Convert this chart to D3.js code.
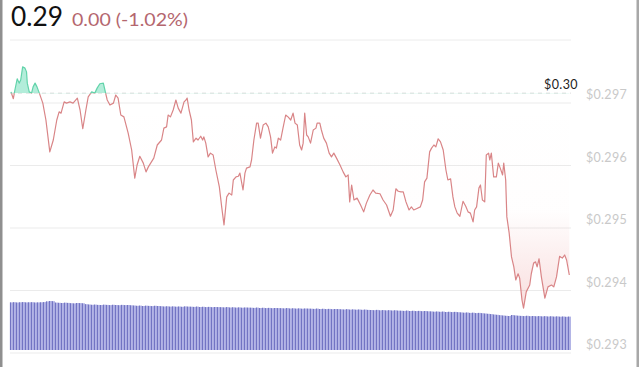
<!DOCTYPE html>
<html>
<head>
<meta charset="utf-8">
<script src="https://cdn.jsdelivr.net/npm/d3@7/dist/d3.min.js"></script>
<style>
  html, body { margin: 0; padding: 0; background: #fff; }
  svg { display: block; }
</style>
</head>
<body>
<div id="chart"></div>
<script>
// ---------- DATA ----------
const headerPrice = "0.29";
const headerChange = "0.00 (-1.02%)";
const baselinePrice = 0.29715;          // previous close (dashed line)
const baselineLabel = "$0.30";
const priceTicks = [0.297, 0.296, 0.295, 0.294, 0.293];
const tickLabels = ["$0.297", "$0.296", "$0.295", "$0.294", "$0.293"];

// minutes since start of the 24h window
const times = [0,6,10,16,21,25,30,36,40,42,47,53,57,62,67,73,82,90,100,109,118,124,129,137,143,152,160,171,178,185,193,199,208,216,222,229,238,242,248,255,264,270,276,283,291,302,311,319,325,332,341,348,354,360,368,377,388,394,401,405,411,418,425,431,438,446,451,454,459,465,470,477,482,489,494,497,502,508,514,521,528,537,543,549,556,562,569,573,580,586,590,598,603,607,616,620,626,633,637,643,650,657,663,669,674,680,684,689,695,701,708,714,721,727,732,738,744,749,753,757,762,766,772,779,786,789,796,800,806,813,820,826,832,839,848,856,863,869,873,878,884,892,901,909,916,925,933,940,951,959,968,978,985,992,998,1005,1011,1018,1026,1032,1038,1045,1055,1061,1066,1072,1079,1084,1090,1095,1101,1107,1114,1121,1126,1133,1139,1144,1150,1157,1165,1172,1178,1184,1191,1195,1200,1206,1210,1215,1221,1225,1231,1234,1238,1244,1251,1256,1261,1267,1270,1275,1278,1284,1290,1296,1301,1307,1311,1317,1321,1328,1337,1341,1347,1352,1356,1361,1367,1376,1384,1393,1399,1406,1414,1421,1427,1432,1439];

const prices = [0.29717,0.29706,0.29720,0.29738,0.29731,0.29736,0.29757,0.29755,0.29749,0.29731,0.29717,0.29715,0.29725,0.29731,0.29725,0.29715,0.29699,0.29672,0.29621,0.29640,0.29672,0.29685,0.29683,0.29701,0.29699,0.29701,0.29699,0.29707,0.29688,0.29658,0.29688,0.29709,0.29717,0.29715,0.29723,0.29730,0.29731,0.29720,0.29704,0.29696,0.29699,0.29712,0.29707,0.29680,0.29677,0.29651,0.29624,0.29579,0.29600,0.29614,0.29603,0.29589,0.29597,0.29603,0.29611,0.29632,0.29640,0.29659,0.29661,0.29680,0.29677,0.29688,0.29704,0.29691,0.29683,0.29701,0.29704,0.29707,0.29688,0.29672,0.29637,0.29643,0.29640,0.29646,0.29640,0.29645,0.29635,0.29613,0.29619,0.29616,0.29592,0.29565,0.29533,0.29504,0.29549,0.29555,0.29552,0.29576,0.29581,0.29582,0.29587,0.29560,0.29587,0.29595,0.29597,0.29608,0.29640,0.29667,0.29667,0.29643,0.29664,0.29667,0.29661,0.29645,0.29619,0.29629,0.29627,0.29643,0.29640,0.29659,0.29680,0.29677,0.29672,0.29683,0.29667,0.29664,0.29632,0.29624,0.29635,0.29683,0.29648,0.29645,0.29635,0.29656,0.29659,0.29667,0.29667,0.29656,0.29643,0.29635,0.29619,0.29613,0.29619,0.29611,0.29600,0.29589,0.29581,0.29584,0.29541,0.29568,0.29544,0.29547,0.29536,0.29525,0.29539,0.29552,0.29560,0.29555,0.29554,0.29544,0.29536,0.29518,0.29528,0.29562,0.29558,0.29557,0.29557,0.29541,0.29528,0.29533,0.29528,0.29530,0.29533,0.29544,0.29573,0.29579,0.29621,0.29627,0.29632,0.29629,0.29642,0.29637,0.29624,0.29592,0.29576,0.29578,0.29549,0.29533,0.29523,0.29518,0.29542,0.29534,0.29525,0.29523,0.29509,0.29528,0.29533,0.29563,0.29568,0.29544,0.29541,0.29616,0.29619,0.29608,0.29619,0.29581,0.29581,0.29603,0.29595,0.29584,0.29603,0.29576,0.29517,0.29491,0.29453,0.29437,0.29416,0.29426,0.29419,0.29384,0.29371,0.29397,0.29408,0.29426,0.29443,0.29445,0.29437,0.29450,0.29421,0.29387,0.29405,0.29408,0.29405,0.29421,0.29454,0.29451,0.29456,0.29448,0.29424];

const volumes = [
  47.6,47.8,47.5,47.7,47.9,47.6,47.7,47.8,47.5,47.6,
  47.7,47.9,48.6,49.0,48.8,47.4,47.2,47.0,47.3,47.1,
  46.8,46.6,47.0,46.9,46.7,45.8,45.5,45.2,45.4,45.1,
  45.0,45.3,45.1,44.9,45.2,45.0,44.8,45.1,44.9,45.0,
  44.7,44.5,44.2,44.4,44.0,44.3,44.1,43.9,44.2,44.0,
  43.8,43.5,43.7,43.4,43.6,43.3,43.5,43.2,43.6,43.4,
  43.3,43.1,43.4,43.0,43.2,42.9,43.1,42.8,43.0,42.9,
  42.8,42.6,42.9,42.5,42.7,42.4,42.6,42.3,42.5,42.4,
  42.3,42.1,42.4,42.0,42.2,41.9,42.1,41.8,42.0,41.9,
  41.8,41.6,41.9,41.5,41.7,41.4,41.6,41.3,41.5,41.4,
  41.3,41.1,41.4,41.0,41.2,40.9,41.1,40.8,41.0,40.9,
  40.7,40.5,40.8,40.4,40.6,40.3,40.5,40.2,40.4,40.1,
  40.0,39.8,40.1,39.7,39.9,39.6,39.8,39.5,39.7,39.4,
  39.3,39.1,39.4,39.0,39.2,38.9,39.1,38.8,39.0,38.7,
  38.6,38.3,38.5,38.2,38.4,38.0,38.2,37.9,38.1,37.8,
  37.6,37.3,37.5,37.1,37.3,36.9,37.1,36.8,36.5,36.2,
  35.9,35.5,35.2,34.8,34.5,34.2,34.0,35.0,34.6,34.3,
  34.1,33.9,34.2,33.8,34.0,33.7,33.9,33.6,33.8,33.5,
  33.7,33.4,33.6,33.3,33.5,33.2,33.4
];

// ---------- CHART ----------
const W = 640, H = 367;
const svg = d3.select("#chart").append("svg").attr("width", W).attr("height", H);

const x = d3.scaleLinear().domain([0, 1440]).range([11, 569.7]);
const y = d3.scaleLinear().domain([0.293, 0.298]).range([352.5, 40]);
const xb = d3.scaleBand().domain(d3.range(volumes.length)).range([10, 571]).padding(0);
const yv = d3.scaleLinear().domain([0, 50]).range([350, 300]);

const data = times.map((t, i) => ({ t, p: prices[i] }));
const by = y(baselinePrice);

// borders
svg.append("rect").attr("x", 0).attr("y", 0).attr("width", 2.5).attr("height", H).attr("fill", "#8f8f8f");
svg.append("rect").attr("x", 636.5).attr("y", 0).attr("width", 2.5).attr("height", H).attr("fill", "#a8a8a8");

// header
svg.append("text").attr("x", 11).attr("y", 26).text(headerPrice)
  .attr("font-family", "Lato, 'Open Sans', sans-serif").attr("font-size", 26)
  .attr("fill", "#111").attr("textLength", 52).attr("lengthAdjust", "spacingAndGlyphs");
svg.append("text").attr("x", 72).attr("y", 26).text(headerChange)
  .attr("font-family", "Lato, 'Open Sans', sans-serif").attr("font-size", 17)
  .attr("fill", "#b4666e").attr("textLength", 116).attr("lengthAdjust", "spacingAndGlyphs");

// grid
svg.append("line").attr("x1", 10).attr("x2", 571).attr("y1", 40).attr("y2", 40)
  .attr("stroke", "#ececec").attr("stroke-width", 1);
const yAxis = d3.axisRight(y).tickValues(priceTicks).tickSize(-561)
  .tickFormat((d, i) => tickLabels[i]).tickPadding(0);
const ga = svg.append("g").attr("transform", "translate(571,0)").call(yAxis);
ga.select(".domain").remove();
ga.selectAll(".tick line").attr("stroke", "#ebebeb").attr("stroke-width", 1);
ga.selectAll(".tick text").attr("x", 15).attr("dy", "-3.7px")
  .attr("font-family", "Lato, 'Open Sans', sans-serif").attr("font-size", 12.5)
  .attr("fill", "#c9c9c9").attr("letter-spacing", 0.3);
ga.selectAll(".tick text").attr("dominant-baseline", "auto").attr("y", 0);

// baseline dashed
svg.append("line").attr("x1", 10).attr("x2", 571).attr("y1", by).attr("y2", by)
  .attr("stroke", "#dcdcdc").attr("stroke-width", 1).attr("stroke-dasharray", "4,4");
svg.append("text").attr("x", 578).attr("y", by - 3.7).attr("text-anchor", "end")
  .text(baselineLabel).attr("font-family", "Lato, 'Open Sans', sans-serif")
  .attr("font-size", 12.5).attr("fill", "#222").attr("letter-spacing", 0.4);

// defs
const defs = svg.append("defs");
defs.append("clipPath").attr("id", "above").append("rect")
  .attr("x", 0).attr("y", 0).attr("width", W).attr("height", by);
defs.append("clipPath").attr("id", "below").append("rect")
  .attr("x", 0).attr("y", by).attr("width", W).attr("height", H - by);
const grad = defs.append("linearGradient").attr("id", "redgrad")
  .attr("gradientUnits", "userSpaceOnUse").attr("x1", 0).attr("x2", 0)
  .attr("y1", by).attr("y2", y(0.2937));
grad.append("stop").attr("offset", 0).attr("stop-color", "#e88080").attr("stop-opacity", 0);
grad.append("stop").attr("offset", 0.55).attr("stop-color", "#e88080").attr("stop-opacity", 0.01);
grad.append("stop").attr("offset", 1).attr("stop-color", "#e88080").attr("stop-opacity", 0.26);

// volume bars
const gv = svg.append("g");
gv.selectAll("rect").data(volumes).join("rect")
  .attr("x", (d, i) => xb(i)).attr("width", xb.bandwidth())
  .attr("y", d => yv(d)).attr("height", d => yv(0) - yv(d))
  .attr("fill", "#b3b5e6");
gv.selectAll("line").data(volumes).join("line")
  .attr("x1", (d, i) => xb(i) + 0.4).attr("x2", (d, i) => xb(i) + 0.4)
  .attr("y1", d => yv(d)).attr("y2", yv(0))
  .attr("stroke", "#5254b0").attr("stroke-width", 0.75);

// areas
const area = d3.area().x(d => x(d.t)).y0(by).y1(d => y(d.p));
const line = d3.line().x(d => x(d.t)).y(d => y(d.p));

svg.append("path").datum(data).attr("d", area).attr("clip-path", "url(#below)")
  .attr("fill", "url(#redgrad)");
svg.append("path").datum(data).attr("d", area).attr("clip-path", "url(#above)")
  .attr("fill", "#a6ead3").attr("fill-opacity", 0.85);

svg.append("path").datum(data).attr("d", line).attr("clip-path", "url(#below)")
  .attr("fill", "none").attr("stroke", "#d98587").attr("stroke-width", 1.2)
  .attr("stroke-linejoin", "round");
svg.append("path").datum(data).attr("d", line).attr("clip-path", "url(#above)")
  .attr("fill", "none").attr("stroke", "#62d3aa").attr("stroke-width", 1.2)
  .attr("stroke-linejoin", "round");
</script>
</body>
</html>
